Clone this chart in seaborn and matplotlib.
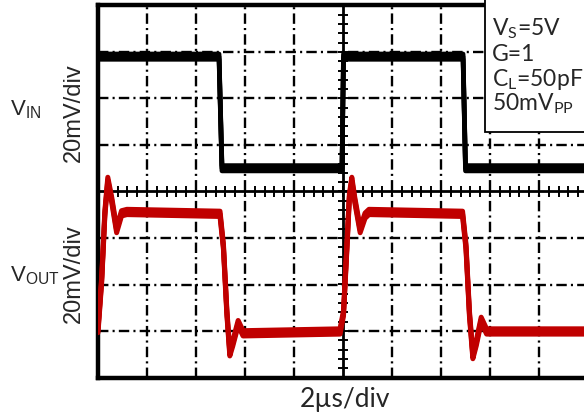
import numpy as np
import matplotlib
matplotlib.use("Agg")
import matplotlib.pyplot as plt
import matplotlib.patheffects as pe
from matplotlib.patches import Rectangle
import seaborn as sns

# Time in divisions (2 µs/div), amplitude in divisions (20 mV/div)
vin_t = [0.00, 2.47, 2.53, 4.98, 5.01, 7.45, 7.50, 10.2]
vin_v = [2.90, 2.90, 0.50, 0.50, 2.90, 2.90, 0.50, 0.50]

vout_t = [0.00, 0.075, 0.14, 0.20, 0.28, 0.38, 0.48, 0.59,
          2.49, 2.56, 2.63, 2.69, 2.75, 2.86, 2.96,
          4.94, 5.01, 5.08, 5.13, 5.18, 5.24, 5.35, 5.45, 5.53,
          7.44, 7.51, 7.58, 7.65, 7.72, 7.82, 7.93, 10.2]
vout_v = [-2.98, -1.90, -0.47, 0.25, -0.18, -0.83, -0.47, -0.44,
          -0.48, -1.19, -2.60, -3.48, -3.27, -2.83, -3.05,
          -3.01, -2.62, -1.19, -0.11, 0.25, -0.18, -0.83, -0.52, -0.44,
          -0.48, -1.19, -2.62, -3.54, -3.26, -2.76, -3.01, -3.01]

conditions = ["V$_\\mathrm{S}$=5V", "G=1", "C$_\\mathrm{L}$=50pF", "50mV$_\\mathrm{PP}$"]
x_label = "2µs/div"
y_label = "20mV/div"
channel_labels = ["V$_\\mathsf{IN}$", "V$_\\mathsf{OUT}$"]

sns.set_style("white")
plt.rcParams.update({
    "font.family": ["Lato", "DejaVu Sans"],
    "mathtext.fontset": "custom",
    "mathtext.rm": "Lato",
    "mathtext.sf": "Liberation Sans",
    "lines.scale_dashes": False,
})

W, H = 584, 416
fig = plt.figure(figsize=(W / 100, H / 100), dpi=100)
ax = fig.add_axes([98 / W, 38.5 / H, 490 / W, 372 / H])
ax.set_xlim(0, 10)
ax.set_ylim(-4, 4)
ax.set_xticks([])
ax.set_yticks([])
for side in ("left", "bottom", "top"):
    ax.spines[side].set_linewidth(3.2)
    ax.spines[side].set_color("black")
ax.spines["right"].set_visible(False)

# scope graticule
dashdot = (0, (7.5, 3, 1.5, 3))
ax.vlines([1, 2, 3, 4, 6, 7, 8, 9], -4, 4, colors="black", linestyles=dashdot, lw=1.7, zorder=1)
ax.hlines([-3, -2, -1, 1, 2, 3], 0, 10, colors="black", linestyles=dashdot, lw=1.7, zorder=1)
ax.axhline(0, color="black", lw=2.0, zorder=1)
ax.axvline(5, color="black", lw=2.0, zorder=1)
ax.vlines(np.arange(0.2, 10, 0.2), -0.11, 0.11, colors="black", lw=1.4, zorder=1)
ax.hlines(np.arange(-3.8, 4, 0.2), 4.9, 5.1, colors="black", lw=1.4, zorder=1)

# traces, with a slight vertical smear for the noisy flat levels
smear = [pe.Stroke(offset=(0, 1.9)), pe.Stroke(offset=(0, -1.9)), pe.Normal()]
sns.lineplot(x=vin_t, y=vin_v, ax=ax, color="black", lw=3.4, sort=False, estimator=None)
ax.lines[-1].set_path_effects(smear)
ax.lines[-1].set_zorder(3)
sns.lineplot(x=vout_t, y=vout_v, ax=ax, color="#c00000", lw=3.6, sort=False, estimator=None)
ax.lines[-1].set_path_effects(smear)
ax.lines[-1].set_zorder(3)

# test-condition box
ax.add_patch(Rectangle((7.9, 1.28), 3.0, 3.0, facecolor="white", edgecolor="black",
                       lw=1.3, zorder=5, clip_on=False))
for txt, yy in zip(conditions, [3.37, 2.81, 2.27, 1.75]):
    ax.text(8.04, yy, txt, fontsize=16.5, family="Lato", va="baseline", ha="left", zorder=6)

# axis captions
fig.text(345 / W, 1 - 407 / H, x_label, fontsize=19, family="Lato", ha="center", va="baseline")
for yc in (113, 274):
    fig.text(74 / W, 1 - yc / H, y_label, fontsize=17, family="Liberation Sans",
             rotation=90, ha="center", va="center")
fig.text(10 / W, 1 - 115 / H, channel_labels[0], fontsize=16, family="Liberation Sans",
         ha="left", va="baseline")
fig.text(10 / W, 1 - 281 / H, channel_labels[1], fontsize=16, family="Liberation Sans",
         ha="left", va="baseline")

fig.savefig("out.png", dpi=100)
